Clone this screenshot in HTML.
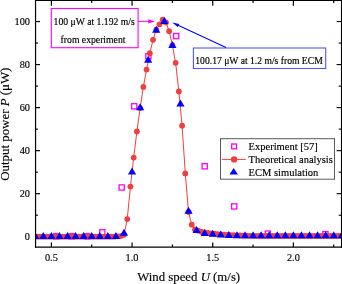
<!DOCTYPE html>
<html><head><meta charset="utf-8"><style>
html,body{margin:0;padding:0;background:#fff;width:342px;height:284px;overflow:hidden}
svg{position:absolute;left:0;top:0;display:block;will-change:transform}
text{font-family:"Liberation Serif",serif;fill:#000;stroke:#000;stroke-width:0.15px}
.tk{font-size:10.3px}
.tx{font-size:12.8px}
.ti{font-size:12.9px}
.an{font-size:9.7px}
.lg{font-size:10.5px}
</style></head><body>
<svg width="342" height="284" viewBox="0 0 342 284">
<defs><clipPath id="pc"><rect x="35.6" y="0" width="305.6" height="247.1"/></clipPath></defs>
<line x1="51.40" y1="247.1" x2="51.40" y2="242.50" stroke="#000" stroke-width="1.2"/>
<line x1="51.40" y1="0.3" x2="51.40" y2="5.70" stroke="#000" stroke-width="1.2"/>
<line x1="91.73" y1="247.1" x2="91.73" y2="244.50" stroke="#000" stroke-width="1.2"/>
<line x1="91.73" y1="0.3" x2="91.73" y2="2.90" stroke="#000" stroke-width="1.2"/>
<line x1="132.06" y1="247.1" x2="132.06" y2="242.50" stroke="#000" stroke-width="1.2"/>
<line x1="132.06" y1="0.3" x2="132.06" y2="5.70" stroke="#000" stroke-width="1.2"/>
<line x1="172.40" y1="247.1" x2="172.40" y2="244.50" stroke="#000" stroke-width="1.2"/>
<line x1="172.40" y1="0.3" x2="172.40" y2="2.90" stroke="#000" stroke-width="1.2"/>
<line x1="212.73" y1="247.1" x2="212.73" y2="242.50" stroke="#000" stroke-width="1.2"/>
<line x1="212.73" y1="0.3" x2="212.73" y2="5.70" stroke="#000" stroke-width="1.2"/>
<line x1="253.06" y1="247.1" x2="253.06" y2="244.50" stroke="#000" stroke-width="1.2"/>
<line x1="253.06" y1="0.3" x2="253.06" y2="2.90" stroke="#000" stroke-width="1.2"/>
<line x1="293.39" y1="247.1" x2="293.39" y2="242.50" stroke="#000" stroke-width="1.2"/>
<line x1="293.39" y1="0.3" x2="293.39" y2="5.70" stroke="#000" stroke-width="1.2"/>
<line x1="333.73" y1="247.1" x2="333.73" y2="244.50" stroke="#000" stroke-width="1.2"/>
<line x1="333.73" y1="0.3" x2="333.73" y2="2.90" stroke="#000" stroke-width="1.2"/>
<line x1="35.6" y1="236.74" x2="40.00" y2="236.74" stroke="#000" stroke-width="1.2"/>
<line x1="341.5" y1="236.74" x2="336.60" y2="236.74" stroke="#000" stroke-width="1.1"/>
<line x1="35.6" y1="215.22" x2="37.90" y2="215.22" stroke="#000" stroke-width="1.2"/>
<line x1="341.5" y1="215.22" x2="338.70" y2="215.22" stroke="#000" stroke-width="1.1"/>
<line x1="35.6" y1="193.70" x2="40.00" y2="193.70" stroke="#000" stroke-width="1.2"/>
<line x1="341.5" y1="193.70" x2="336.60" y2="193.70" stroke="#000" stroke-width="1.1"/>
<line x1="35.6" y1="172.18" x2="37.90" y2="172.18" stroke="#000" stroke-width="1.2"/>
<line x1="341.5" y1="172.18" x2="338.70" y2="172.18" stroke="#000" stroke-width="1.1"/>
<line x1="35.6" y1="150.66" x2="40.00" y2="150.66" stroke="#000" stroke-width="1.2"/>
<line x1="341.5" y1="150.66" x2="336.60" y2="150.66" stroke="#000" stroke-width="1.1"/>
<line x1="35.6" y1="129.14" x2="37.90" y2="129.14" stroke="#000" stroke-width="1.2"/>
<line x1="341.5" y1="129.14" x2="338.70" y2="129.14" stroke="#000" stroke-width="1.1"/>
<line x1="35.6" y1="107.62" x2="40.00" y2="107.62" stroke="#000" stroke-width="1.2"/>
<line x1="341.5" y1="107.62" x2="336.60" y2="107.62" stroke="#000" stroke-width="1.1"/>
<line x1="35.6" y1="86.10" x2="37.90" y2="86.10" stroke="#000" stroke-width="1.2"/>
<line x1="341.5" y1="86.10" x2="338.70" y2="86.10" stroke="#000" stroke-width="1.1"/>
<line x1="35.6" y1="64.58" x2="40.00" y2="64.58" stroke="#000" stroke-width="1.2"/>
<line x1="341.5" y1="64.58" x2="336.60" y2="64.58" stroke="#000" stroke-width="1.1"/>
<line x1="35.6" y1="43.06" x2="37.90" y2="43.06" stroke="#000" stroke-width="1.2"/>
<line x1="341.5" y1="43.06" x2="338.70" y2="43.06" stroke="#000" stroke-width="1.1"/>
<line x1="35.6" y1="21.54" x2="40.00" y2="21.54" stroke="#000" stroke-width="1.2"/>
<line x1="341.5" y1="21.54" x2="336.60" y2="21.54" stroke="#000" stroke-width="1.1"/>
<g clip-path="url(#pc)">
<rect x="53.60" y="233.70" width="5.2" height="5.2" fill="none" stroke="#ff00ff" stroke-width="1.3"/>
<rect x="69.20" y="233.70" width="5.2" height="5.2" fill="none" stroke="#ff00ff" stroke-width="1.3"/>
<rect x="84.60" y="233.70" width="5.2" height="5.2" fill="none" stroke="#ff00ff" stroke-width="1.3"/>
<rect x="99.70" y="229.70" width="5.2" height="5.2" fill="none" stroke="#ff00ff" stroke-width="1.3"/>
<rect x="119.10" y="184.90" width="5.2" height="5.2" fill="none" stroke="#ff00ff" stroke-width="1.3"/>
<rect x="131.60" y="103.70" width="5.2" height="5.2" fill="none" stroke="#ff00ff" stroke-width="1.3"/>
<rect x="145.80" y="53.70" width="5.2" height="5.2" fill="none" stroke="#ff00ff" stroke-width="1.3"/>
<rect x="173.60" y="33.50" width="5.2" height="5.2" fill="none" stroke="#ff00ff" stroke-width="1.3"/>
<rect x="202.10" y="163.70" width="5.2" height="5.2" fill="none" stroke="#ff00ff" stroke-width="1.3"/>
<rect x="231.60" y="203.80" width="5.2" height="5.2" fill="none" stroke="#ff00ff" stroke-width="1.3"/>
<rect x="265.20" y="231.00" width="5.2" height="5.2" fill="none" stroke="#ff00ff" stroke-width="1.3"/>
<rect x="322.80" y="231.60" width="5.2" height="5.2" fill="none" stroke="#ff00ff" stroke-width="1.3"/>
<polyline fill="none" stroke="#ee4040" stroke-width="1" points="36.88,236.63 40.11,236.63 43.33,236.63 46.56,236.63 49.79,236.63 53.01,236.63 56.24,236.63 59.47,236.63 62.69,236.63 65.92,236.63 69.15,236.63 72.37,236.63 75.60,236.63 78.83,236.63 82.05,236.63 85.28,236.63 88.51,236.63 91.73,236.63 94.96,236.63 98.19,236.63 101.41,236.63 104.64,236.63 107.87,236.63 111.09,236.63 114.32,236.63 117.55,236.31 120.77,236.09 124.00,234.80 127.23,219.09 130.45,186.60 133.68,157.55 136.90,131.51 140.13,108.05 143.36,86.96 146.58,69.53 149.81,53.17 153.04,39.83 156.26,29.72 159.49,24.34 162.72,19.60 165.94,22.40 169.17,31.22 172.40,45.21 175.62,62.86 178.85,91.48 182.08,125.70 185.30,173.47 188.53,211.99 191.76,224.69 194.98,229.42 198.21,230.71 201.44,231.79 204.66,232.44 207.89,232.97 211.12,233.40 214.34,233.76 217.57,234.07 220.80,234.35 224.02,234.60 227.25,234.83 230.48,235.03 233.70,235.21 236.93,235.37 240.16,235.51 243.38,235.64 246.61,235.76 249.84,235.86 253.06,235.95 256.29,235.99 259.52,235.99 262.74,235.99 265.97,235.99 269.20,235.99 272.42,235.99 275.65,235.99 278.88,235.99 282.10,235.99 285.33,235.99 288.56,235.99 291.78,235.99 295.01,235.99 298.23,235.99 301.46,235.99 304.69,235.99 307.91,235.99 311.14,235.99 314.37,235.99 317.59,235.99 320.82,235.99 324.05,235.99 327.27,235.99 330.50,235.99 333.73,235.99 336.95,235.99 340.18,235.99"/>
<circle cx="36.88" cy="236.63" r="2.9" fill="#ee4040"/>
<circle cx="40.11" cy="236.63" r="2.9" fill="#ee4040"/>
<circle cx="43.33" cy="236.63" r="2.9" fill="#ee4040"/>
<circle cx="46.56" cy="236.63" r="2.9" fill="#ee4040"/>
<circle cx="49.79" cy="236.63" r="2.9" fill="#ee4040"/>
<circle cx="53.01" cy="236.63" r="2.9" fill="#ee4040"/>
<circle cx="56.24" cy="236.63" r="2.9" fill="#ee4040"/>
<circle cx="59.47" cy="236.63" r="2.9" fill="#ee4040"/>
<circle cx="62.69" cy="236.63" r="2.9" fill="#ee4040"/>
<circle cx="65.92" cy="236.63" r="2.9" fill="#ee4040"/>
<circle cx="69.15" cy="236.63" r="2.9" fill="#ee4040"/>
<circle cx="72.37" cy="236.63" r="2.9" fill="#ee4040"/>
<circle cx="75.60" cy="236.63" r="2.9" fill="#ee4040"/>
<circle cx="78.83" cy="236.63" r="2.9" fill="#ee4040"/>
<circle cx="82.05" cy="236.63" r="2.9" fill="#ee4040"/>
<circle cx="85.28" cy="236.63" r="2.9" fill="#ee4040"/>
<circle cx="88.51" cy="236.63" r="2.9" fill="#ee4040"/>
<circle cx="91.73" cy="236.63" r="2.9" fill="#ee4040"/>
<circle cx="94.96" cy="236.63" r="2.9" fill="#ee4040"/>
<circle cx="98.19" cy="236.63" r="2.9" fill="#ee4040"/>
<circle cx="101.41" cy="236.63" r="2.9" fill="#ee4040"/>
<circle cx="104.64" cy="236.63" r="2.9" fill="#ee4040"/>
<circle cx="107.87" cy="236.63" r="2.9" fill="#ee4040"/>
<circle cx="111.09" cy="236.63" r="2.9" fill="#ee4040"/>
<circle cx="114.32" cy="236.63" r="2.9" fill="#ee4040"/>
<circle cx="117.55" cy="236.31" r="2.9" fill="#ee4040"/>
<circle cx="120.77" cy="236.09" r="2.9" fill="#ee4040"/>
<circle cx="124.00" cy="234.80" r="2.9" fill="#ee4040"/>
<circle cx="127.23" cy="219.09" r="2.9" fill="#ee4040"/>
<circle cx="130.45" cy="186.60" r="2.9" fill="#ee4040"/>
<circle cx="133.68" cy="157.55" r="2.9" fill="#ee4040"/>
<circle cx="136.90" cy="131.51" r="2.9" fill="#ee4040"/>
<circle cx="140.13" cy="108.05" r="2.9" fill="#ee4040"/>
<circle cx="143.36" cy="86.96" r="2.9" fill="#ee4040"/>
<circle cx="146.58" cy="69.53" r="2.9" fill="#ee4040"/>
<circle cx="149.81" cy="53.17" r="2.9" fill="#ee4040"/>
<circle cx="153.04" cy="39.83" r="2.9" fill="#ee4040"/>
<circle cx="156.26" cy="29.72" r="2.9" fill="#ee4040"/>
<circle cx="159.49" cy="24.34" r="2.9" fill="#ee4040"/>
<circle cx="162.72" cy="19.60" r="2.9" fill="#ee4040"/>
<circle cx="165.94" cy="22.40" r="2.9" fill="#ee4040"/>
<circle cx="169.17" cy="31.22" r="2.9" fill="#ee4040"/>
<circle cx="172.40" cy="45.21" r="2.9" fill="#ee4040"/>
<circle cx="175.62" cy="62.86" r="2.9" fill="#ee4040"/>
<circle cx="178.85" cy="91.48" r="2.9" fill="#ee4040"/>
<circle cx="182.08" cy="125.70" r="2.9" fill="#ee4040"/>
<circle cx="185.30" cy="173.47" r="2.9" fill="#ee4040"/>
<circle cx="188.53" cy="211.99" r="2.9" fill="#ee4040"/>
<circle cx="191.76" cy="224.69" r="2.9" fill="#ee4040"/>
<circle cx="194.98" cy="229.42" r="2.9" fill="#ee4040"/>
<circle cx="198.21" cy="230.71" r="2.9" fill="#ee4040"/>
<circle cx="201.44" cy="231.79" r="2.9" fill="#ee4040"/>
<circle cx="204.66" cy="232.44" r="2.9" fill="#ee4040"/>
<circle cx="207.89" cy="232.97" r="2.9" fill="#ee4040"/>
<circle cx="211.12" cy="233.40" r="2.9" fill="#ee4040"/>
<circle cx="214.34" cy="233.76" r="2.9" fill="#ee4040"/>
<circle cx="217.57" cy="234.07" r="2.9" fill="#ee4040"/>
<circle cx="220.80" cy="234.35" r="2.9" fill="#ee4040"/>
<circle cx="224.02" cy="234.60" r="2.9" fill="#ee4040"/>
<circle cx="227.25" cy="234.83" r="2.9" fill="#ee4040"/>
<circle cx="230.48" cy="235.03" r="2.9" fill="#ee4040"/>
<circle cx="233.70" cy="235.21" r="2.9" fill="#ee4040"/>
<circle cx="236.93" cy="235.37" r="2.9" fill="#ee4040"/>
<circle cx="240.16" cy="235.51" r="2.9" fill="#ee4040"/>
<circle cx="243.38" cy="235.64" r="2.9" fill="#ee4040"/>
<circle cx="246.61" cy="235.76" r="2.9" fill="#ee4040"/>
<circle cx="249.84" cy="235.86" r="2.9" fill="#ee4040"/>
<circle cx="253.06" cy="235.95" r="2.9" fill="#ee4040"/>
<circle cx="256.29" cy="235.99" r="2.9" fill="#ee4040"/>
<circle cx="259.52" cy="235.99" r="2.9" fill="#ee4040"/>
<circle cx="262.74" cy="235.99" r="2.9" fill="#ee4040"/>
<circle cx="265.97" cy="235.99" r="2.9" fill="#ee4040"/>
<circle cx="269.20" cy="235.99" r="2.9" fill="#ee4040"/>
<circle cx="272.42" cy="235.99" r="2.9" fill="#ee4040"/>
<circle cx="275.65" cy="235.99" r="2.9" fill="#ee4040"/>
<circle cx="278.88" cy="235.99" r="2.9" fill="#ee4040"/>
<circle cx="282.10" cy="235.99" r="2.9" fill="#ee4040"/>
<circle cx="285.33" cy="235.99" r="2.9" fill="#ee4040"/>
<circle cx="288.56" cy="235.99" r="2.9" fill="#ee4040"/>
<circle cx="291.78" cy="235.99" r="2.9" fill="#ee4040"/>
<circle cx="295.01" cy="235.99" r="2.9" fill="#ee4040"/>
<circle cx="298.23" cy="235.99" r="2.9" fill="#ee4040"/>
<circle cx="301.46" cy="235.99" r="2.9" fill="#ee4040"/>
<circle cx="304.69" cy="235.99" r="2.9" fill="#ee4040"/>
<circle cx="307.91" cy="235.99" r="2.9" fill="#ee4040"/>
<circle cx="311.14" cy="235.99" r="2.9" fill="#ee4040"/>
<circle cx="314.37" cy="235.99" r="2.9" fill="#ee4040"/>
<circle cx="317.59" cy="235.99" r="2.9" fill="#ee4040"/>
<circle cx="320.82" cy="235.99" r="2.9" fill="#ee4040"/>
<circle cx="324.05" cy="235.99" r="2.9" fill="#ee4040"/>
<circle cx="327.27" cy="235.99" r="2.9" fill="#ee4040"/>
<circle cx="330.50" cy="235.99" r="2.9" fill="#ee4040"/>
<circle cx="333.73" cy="235.99" r="2.9" fill="#ee4040"/>
<circle cx="336.95" cy="235.99" r="2.9" fill="#ee4040"/>
<circle cx="340.18" cy="235.99" r="2.9" fill="#ee4040"/>
<path d="M35.27,231.90L39.37,238.90L31.17,238.90Z" fill="#0000ff"/>
<path d="M43.33,231.90L47.43,238.90L39.23,238.90Z" fill="#0000ff"/>
<path d="M51.40,231.90L55.50,238.90L47.30,238.90Z" fill="#0000ff"/>
<path d="M59.47,231.90L63.57,238.90L55.37,238.90Z" fill="#0000ff"/>
<path d="M67.53,231.90L71.63,238.90L63.43,238.90Z" fill="#0000ff"/>
<path d="M75.60,231.90L79.70,238.90L71.50,238.90Z" fill="#0000ff"/>
<path d="M83.67,231.90L87.77,238.90L79.57,238.90Z" fill="#0000ff"/>
<path d="M91.73,231.90L95.83,238.90L87.63,238.90Z" fill="#0000ff"/>
<path d="M99.80,231.90L103.90,238.90L95.70,238.90Z" fill="#0000ff"/>
<path d="M107.87,231.90L111.97,238.90L103.77,238.90Z" fill="#0000ff"/>
<path d="M115.93,231.90L120.03,238.90L111.83,238.90Z" fill="#0000ff"/>
<path d="M124.00,228.75L128.10,235.75L119.90,235.75Z" fill="#0000ff"/>
<path d="M132.06,167.40L136.16,174.40L127.97,174.40Z" fill="#0000ff"/>
<path d="M140.13,103.35L144.23,110.35L136.03,110.35Z" fill="#0000ff"/>
<path d="M148.20,55.75L152.30,62.75L144.10,62.75Z" fill="#0000ff"/>
<path d="M156.26,25.85L160.36,32.85L152.16,32.85Z" fill="#0000ff"/>
<path d="M164.33,16.90L168.43,23.90L160.23,23.90Z" fill="#0000ff"/>
<path d="M172.40,40.90L176.50,47.90L168.30,47.90Z" fill="#0000ff"/>
<path d="M180.46,99.50L184.56,106.50L176.36,106.50Z" fill="#0000ff"/>
<path d="M188.53,206.80L192.63,213.80L184.43,213.80Z" fill="#0000ff"/>
<path d="M196.60,225.90L200.70,232.90L192.50,232.90Z" fill="#0000ff"/>
<path d="M204.66,228.90L208.76,235.90L200.56,235.90Z" fill="#0000ff"/>
<path d="M212.73,229.85L216.83,236.85L208.63,236.85Z" fill="#0000ff"/>
<path d="M220.80,230.50L224.90,237.50L216.70,237.50Z" fill="#0000ff"/>
<path d="M228.86,230.95L232.96,237.95L224.76,237.95Z" fill="#0000ff"/>
<path d="M236.93,231.15L241.03,238.15L232.83,238.15Z" fill="#0000ff"/>
<path d="M245.00,231.25L249.10,238.25L240.90,238.25Z" fill="#0000ff"/>
<path d="M253.06,231.30L257.16,238.30L248.96,238.30Z" fill="#0000ff"/>
<path d="M261.13,231.30L265.23,238.30L257.03,238.30Z" fill="#0000ff"/>
<path d="M269.20,231.30L273.30,238.30L265.10,238.30Z" fill="#0000ff"/>
<path d="M277.26,231.30L281.36,238.30L273.16,238.30Z" fill="#0000ff"/>
<path d="M285.33,231.30L289.43,238.30L281.23,238.30Z" fill="#0000ff"/>
<path d="M293.39,231.30L297.50,238.30L289.29,238.30Z" fill="#0000ff"/>
<path d="M301.46,231.30L305.56,238.30L297.36,238.30Z" fill="#0000ff"/>
<path d="M309.53,231.30L313.63,238.30L305.43,238.30Z" fill="#0000ff"/>
<path d="M317.59,231.30L321.69,238.30L313.49,238.30Z" fill="#0000ff"/>
<path d="M325.66,231.30L329.76,238.30L321.56,238.30Z" fill="#0000ff"/>
<path d="M333.73,231.30L337.83,238.30L329.63,238.30Z" fill="#0000ff"/>
<path d="M341.79,231.30L345.89,238.30L337.69,238.30Z" fill="#0000ff"/>
</g>
<line x1="35.55" y1="0" x2="35.55" y2="247.7" stroke="#000" stroke-width="1.2"/>
<line x1="341.5" y1="0" x2="341.5" y2="247.7" stroke="#000" stroke-width="1.1"/>
<line x1="35" y1="0.5" x2="342" y2="0.5" stroke="#000" stroke-width="1.05"/>
<line x1="35" y1="247.1" x2="342" y2="247.1" stroke="#000" stroke-width="1.1"/>
<text x="30.0" y="240.24" text-anchor="end" class="tk">0</text>
<text x="30.0" y="197.20" text-anchor="end" class="tk">20</text>
<text x="30.0" y="154.16" text-anchor="end" class="tk">40</text>
<text x="30.0" y="111.12" text-anchor="end" class="tk">60</text>
<text x="30.0" y="68.08" text-anchor="end" class="tk">80</text>
<text x="30.0" y="25.04" text-anchor="end" class="tk">100</text>
<text x="51.40" y="261" text-anchor="middle" class="tk">0.5</text>
<text x="132.06" y="261" text-anchor="middle" class="tk">1.0</text>
<text x="212.73" y="261" text-anchor="middle" class="tk">1.5</text>
<text x="293.39" y="261" text-anchor="middle" class="tk">2.0</text>
<text x="137.2" y="281.1" class="tx">Wind speed <tspan font-style="italic">U</tspan> (m/s)</text>
<text transform="translate(8.9,124.2) rotate(-90)" text-anchor="middle" class="ti">Output power <tspan font-style="italic">P</tspan> (μW)</text>
<rect x="51.3" y="8.5" width="86.8" height="39.2" fill="#fff" stroke="#ff00ff" stroke-width="1.1"/>
<text x="53.6" y="24.6" class="an">100 μW at 1.192 m/s</text>
<text x="60.6" y="42.8" class="an">from experiment</text>
<line x1="138.1" y1="21.4" x2="149.5" y2="21.4" stroke="#ff00ff" stroke-width="1"/>
<path d="M155,21.4L148.3,19.3L148.3,23.5Z" fill="#ff00ff"/>
<rect x="193.4" y="48" width="132.3" height="20.5" fill="#fff" stroke="#5555ff" stroke-width="1.1"/>
<text x="195.3" y="64.2" class="an" style="font-size:9.64px">100.17 μW at 1.2 m/s from ECM</text>
<line x1="226" y1="47.6" x2="177" y2="24.7" stroke="#0000ff" stroke-width="1.1"/>
<path d="M172.2,22.5L179.3,23.9L177.7,27.1Z" fill="#0000ff"/>
<rect x="220.5" y="138.7" width="114" height="40.5" fill="#fff" stroke="#5a5a5a" stroke-width="1"/>
<rect x="231.7" y="144" width="4.8" height="4.8" fill="none" stroke="#ff00ff" stroke-width="1.3"/>
<line x1="221.9" y1="159.4" x2="245.7" y2="159.4" stroke="#ee4040" stroke-width="1"/>
<circle cx="234.1" cy="159.4" r="3.2" fill="#ee4040"/>
<path d="M233.7,168L237.9,174.6L229.5,174.6Z" fill="#0000ff"/>
<text x="248.6" y="150" class="lg">Experiment [57]</text>
<text x="248.6" y="163.2" class="lg">Theoretical analysis</text>
<text x="248.6" y="175.8" class="lg">ECM simulation</text>
</svg>
</body></html>
